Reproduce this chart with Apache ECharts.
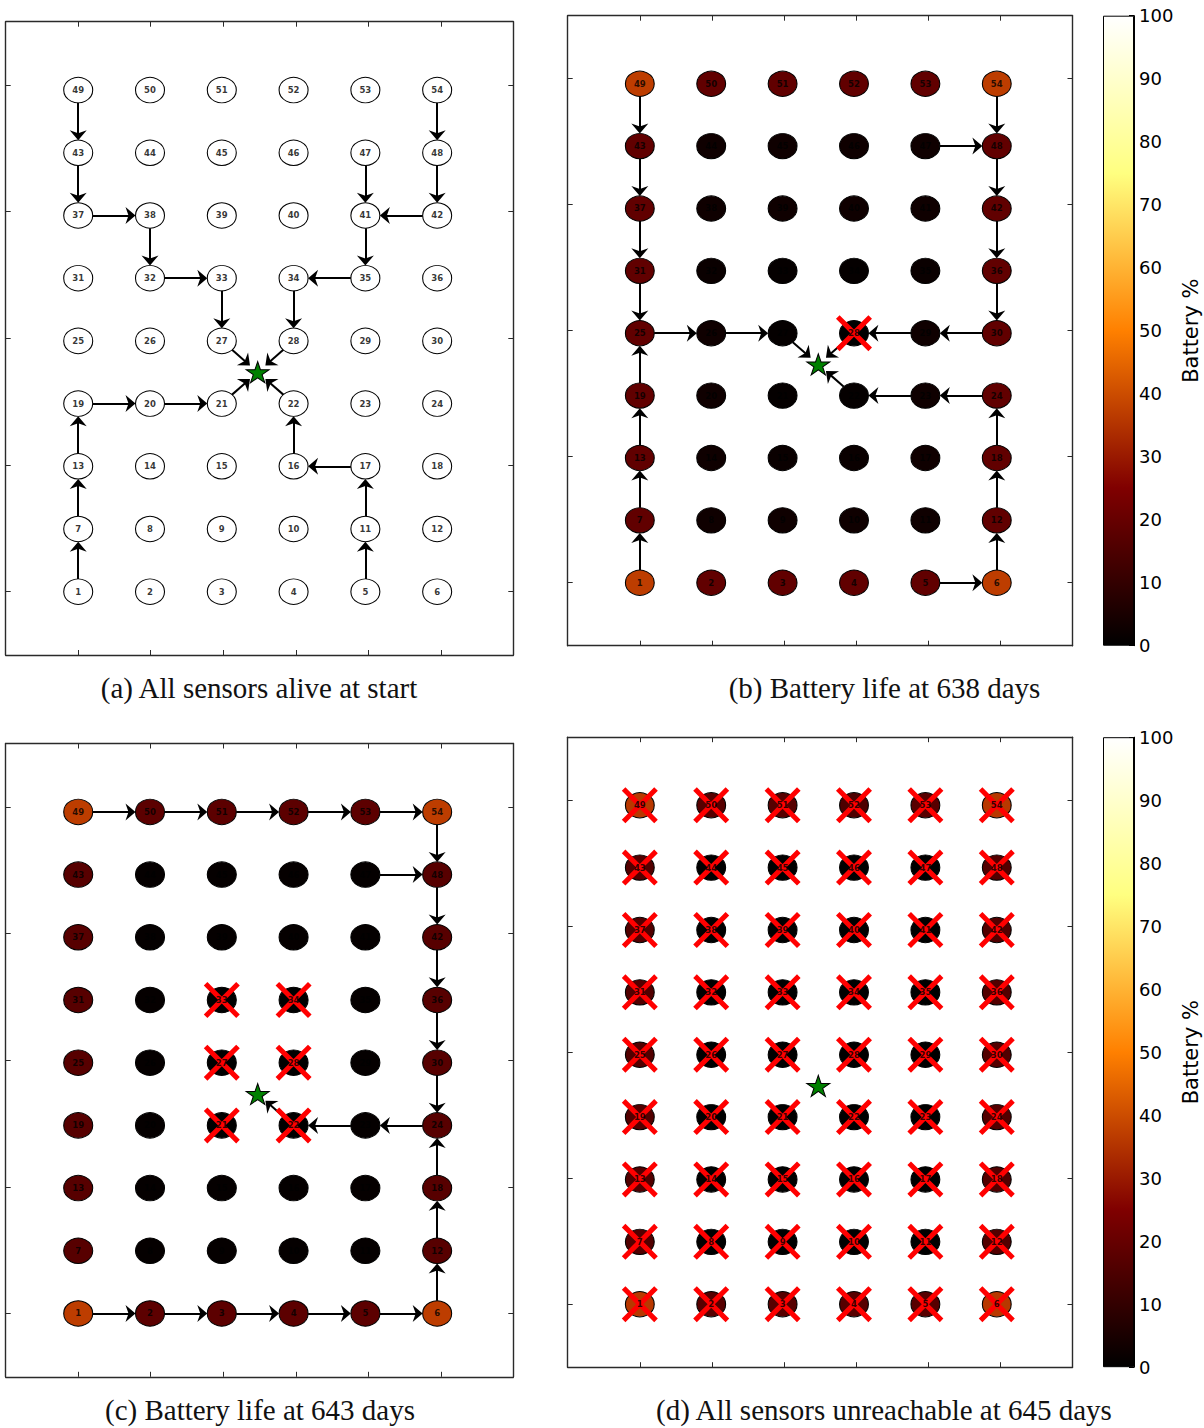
<!DOCTYPE html>
<html><head><meta charset="utf-8">
<script src="https://cdn.jsdelivr.net/npm/echarts@6/dist/echarts.min.js"></script>
<style>html,body{margin:0;padding:0;background:#fff}#c{width:1204px;height:1428px}</style>
</head><body><div id="c"></div>
<script>
// ---------------- data ----------------
const COLS = [0, 99, 198, 297, 396, 495];                        // sensor x positions
const ROWS = [0, 99, 198, 297, 396, 495, 594, 693, 792];         // sensor y positions
const SINK = [247.5, 346.5];                                      // base station (star)
const X_TICKS = [0, 100, 200, 300, 400, 500];
const Y_TICKS = [0, 200, 400, 600, 800];
const CB_TICKS = [0, 10, 20, 30, 40, 50, 60, 70, 80, 90, 100];
const CB_LABEL = 'Battery %';

// battery %, node 1..54 (row by row from the bottom)
const BATTERY_A = [
  100,100,100,100,100,100, 100,100,100,100,100,100, 100,100,100,100,100,100,
  100,100,100,100,100,100, 100,100,100,100,100,100, 100,100,100,100,100,100,
  100,100,100,100,100,100, 100,100,100,100,100,100, 100,100,100,100,100,100];
const BATTERY_B = [
  37,19,19,19,19,37,
  19, 3, 3, 3, 3,19,
  19, 3, 2, 2, 3,19,
  19, 3, 1, 1, 3,19,
  19, 3, 1, 0, 3,19,
  19, 2, 1, 1, 2,19,
  19, 3, 3, 3, 3,19,
  19, 3, 3, 3, 3,19,
  37,19,19,19,19,37];
const BATTERY_C = [
  37,18,18,18,18,37,
  17, 1, 1, 1, 1,17,
  17, 1, 1, 1, 1,17,
  17, 1, 0, 0, 1,17,
  17, 1, 0, 0, 1,17,
  17, 1, 0, 0, 1,17,
  17, 1, 1, 1, 1,17,
  17, 1, 1, 1, 1,17,
  37,18,18,18,18,37];
const BATTERY_D = [
  36,17,17,17,17,36,
  16, 0, 0, 0, 0,16,
  16, 0, 0, 0, 0,16,
  16, 0, 0, 0, 0,16,
  16, 0, 0, 0, 0,16,
  16, 0, 0, 0, 0,16,
  16, 0, 0, 0, 0,16,
  16, 0, 0, 0, 0,16,
  36,17,17,15,17,36];

// routes: [from, to]; 0 = sink
const ROUTES_A = [[49,43],[43,37],[37,38],[38,32],[32,33],[33,27],[27,0],
  [54,48],[48,42],[47,41],[42,41],[41,35],[35,34],[34,28],[28,0],
  [1,7],[7,13],[13,19],[19,20],[20,21],[21,0],
  [5,11],[11,17],[17,16],[16,22],[22,0]];
const ROUTES_B = [[49,43],[43,37],[37,31],[31,25],[1,7],[7,13],[13,19],[19,25],
  [25,26],[26,27],[27,0],
  [54,48],[47,48],[48,42],[42,36],[36,30],[30,29],[29,28],[28,0],
  [5,6],[6,12],[12,18],[18,24],[24,23],[23,22],[22,0]];
const ROUTES_C = [[49,50],[50,51],[51,52],[52,53],[53,54],[54,48],[47,48],[48,42],
  [42,36],[36,30],[30,24],
  [1,2],[2,3],[3,4],[4,5],[5,6],[6,12],[12,18],[18,24],
  [24,23],[23,22],[22,0]];
const ROUTES_D = [];

const DEAD_A = [];
const DEAD_B = [28];
const DEAD_C = [21,22,27,28,33,34];
const DEAD_D = [1,2,3,4,5,6,7,8,9,10,11,12,13,14,15,16,17,18,19,20,21,22,23,24,25,26,27,
  28,29,30,31,32,33,34,35,36,37,38,39,40,41,42,43,44,45,46,47,48,49,50,51,52,53,54];

const CAPTIONS = ['(a) All sensors alive at start', '(b) Battery life at 638 days',
  '(c) Battery life at 643 days', '(d) All sensors unreachable at 645 days'];

// ---------------- layout / style ----------------
const AFMHOT = ['#000000', '#800000', '#ff8000', '#ffff80', '#ffffff'];
const X_RANGE = [-100, 600], Y_RANGE = [-100, 900];
const NODE_R = 20, SINK_R = 15, HEAD_L = 10, HEAD_W = 17;
const SPINE = '#2a2a2a';
const PANELS = [
  {left: 5.7, top: 21.7, width: 507.6, height: 633.3, cap: [259, 688], bat: BATTERY_A, routes: ROUTES_A, dead: DEAD_A},
  {left: 567.7, top: 15.7, width: 504.8, height: 630, cap: [884.5, 688], bat: BATTERY_B, routes: ROUTES_B, dead: DEAD_B, cb: true},
  {left: 5.7, top: 743.5, width: 507.6, height: 633.3, cap: [260, 1410], bat: BATTERY_C, routes: ROUTES_C, dead: DEAD_C},
  {left: 567.7, top: 737.2, width: 504.8, height: 630, cap: [884, 1410], bat: BATTERY_D, routes: ROUTES_D, dead: DEAD_D, cb: true}
];
const ARROW_PATH = 'path://M0,0L9,10L0,7L-9,10Z';
const X_PATH = 'path://M0,10L10,0L50,40L90,0L100,10L60,50L100,90L90,100L50,60L10,100L0,90L40,50Z';
const STAR_PATH = 'path://M50,0L61.23,34.55L97.55,34.55L68.16,55.9L79.39,90.45L50,69.1L20.61,90.45L31.84,55.9L2.45,34.55L38.77,34.55Z';

function pos(n) { return n === 0 ? SINK : [COLS[(n - 1) % 6], ROWS[Math.floor((n - 1) / 6)]]; }

const grid = [], xAxis = [], yAxis = [], series = [], graphic = [], nodeSeries = [];

function axisCommon(gi) {
  return {
    gridIndex: gi, type: 'value',
    axisLine: {show: true, onZero: false, lineStyle: {color: SPINE, width: 1.4}},
    axisLabel: {show: false}, splitLine: {show: false}
  };
}

PANELS.forEach((p, i) => {
  const gi = grid.length;
  grid.push({left: p.left, top: p.top, width: p.width, height: p.height});
  const xi = xAxis.length, yi = yAxis.length;
  ['bottom', 'top'].forEach(ps => xAxis.push(Object.assign(axisCommon(gi), {
    position: ps, min: X_RANGE[0], max: X_RANGE[1], interval: 100,
    axisTick: {show: true, inside: true, length: 5, customValues: X_TICKS, lineStyle: {color: SPINE, width: 1}}
  })));
  ['left', 'right'].forEach(ps => yAxis.push(Object.assign(axisCommon(gi), {
    position: ps, min: Y_RANGE[0], max: Y_RANGE[1], interval: 100,
    axisTick: {show: true, inside: true, length: 5, customValues: Y_TICKS, lineStyle: {color: SPINE, width: 1}}
  })));
  const sx = p.width / (X_RANGE[1] - X_RANGE[0]);
  const sy = p.height / (Y_RANGE[1] - Y_RANGE[0]);
  const ids = [];
  for (let n = 1; n <= 54; n++) ids.push(n);

  // arrows
  const segs = p.routes.map(([a, b]) => {
    const S = pos(a), T = pos(b);
    const dx = T[0] - S[0], dy = T[1] - S[1], d = Math.hypot(dx, dy);
    const ux = dx / d, uy = dy / d;
    const rs = a === 0 ? SINK_R : NODE_R, rt = b === 0 ? SINK_R : NODE_R;
    const px = ux * sx, py = uy * sy, pl = Math.hypot(px, py);
    const tip = [T[0] - ux * rt, T[1] - uy * rt];
    const back = HEAD_L / 2 / pl;
    const lineBack = HEAD_L * 0.5 / pl;
    return {
      start: [S[0] + ux * rs, S[1] + uy * rs],
      end: [tip[0] - ux * lineBack, tip[1] - uy * lineBack],
      center: [tip[0] - ux * back, tip[1] - uy * back],
      rot: Math.atan2(py, px) * 180 / Math.PI - 90
    };
  });

  nodeSeries.push(series.length);
  series.push({
    type: 'scatter', xAxisIndex: xi, yAxisIndex: yi, silent: true, z: 2,
    symbol: 'circle', symbolSize: [2 * NODE_R * sx, 2 * NODE_R * sy],
    itemStyle: {borderColor: '#000', borderWidth: 1, opacity: 1},
    data: ids.map(n => [pos(n)[0], pos(n)[1], p.bat[n - 1]])
  });
  if (segs.length) {
    series.push({
      type: 'lines', coordinateSystem: 'cartesian2d', xAxisIndex: xi, yAxisIndex: yi,
      silent: true, z: 3, symbol: 'none',
      lineStyle: {color: '#000', width: 2, opacity: 1},
      data: segs.map(s => ({coords: [s.start, s.end]}))
    });
    series.push({
      type: 'scatter', xAxisIndex: xi, yAxisIndex: yi, silent: true, z: 3,
      symbol: ARROW_PATH, symbolSize: [HEAD_W, HEAD_L],
      itemStyle: {color: '#000', opacity: 1},
      data: segs.map(s => ({value: s.center, symbolRotate: s.rot}))
    });
  }
  series.push({
    type: 'scatter', xAxisIndex: xi, yAxisIndex: yi, silent: true, z: 4,
    symbol: STAR_PATH, symbolSize: [23, 21],
    itemStyle: {color: '#008000', borderColor: '#000', borderWidth: 1, opacity: 1},
    data: [SINK]
  });
  if (p.dead.length) {
    series.push({
      type: 'scatter', xAxisIndex: xi, yAxisIndex: yi, silent: true, z: 5,
      symbol: X_PATH, symbolSize: [36, 36],
      itemStyle: {color: '#ff0000', opacity: 1},
      data: p.dead.map(n => pos(n))
    });
  }
  series.push({
    type: 'scatter', xAxisIndex: xi, yAxisIndex: yi, silent: true, z: 6,
    symbol: 'circle', symbolSize: 1,
    itemStyle: {color: 'rgba(0,0,0,0)'},
    label: {show: true, position: 'inside', fontFamily: 'DejaVu Sans', fontWeight: 'bold', fontSize: 8.5, color: '#000',
      formatter: prm => String(prm.data.id)},
    data: ids.map(n => ({value: pos(n), id: n}))
  });

  if (p.cb) {
    const cg = grid.length;
    grid.push({left: 1103, top: p.top, width: 31, height: p.height});
    const cxi = xAxis.length, cyi = yAxis.length;
    xAxis.push({type: 'category', gridIndex: cg, data: ['cb'], show: false, boundaryGap: true});
    yAxis.push({
      type: 'value', gridIndex: cg, position: 'right', min: 0, max: 100, interval: 10,
      axisLine: {show: true, lineStyle: {color: '#000', width: 1}},
      axisTick: {show: true, inside: true, length: 5, customValues: CB_TICKS, lineStyle: {color: '#000'}},
      axisLabel: {show: true, customValues: CB_TICKS, margin: 5, color: '#000', fontFamily: 'DejaVu Sans', fontSize: 18},
      splitLine: {show: false},
      name: CB_LABEL, nameLocation: 'middle', nameRotate: 90, nameGap: 46,
      nameTextStyle: {color: '#000', fontFamily: 'DejaVu Sans', fontSize: 21}
    });
    series.push({
      type: 'bar', xAxisIndex: cxi, yAxisIndex: cyi, silent: true, barWidth: '100%', z: 2,
      itemStyle: {
        borderColor: '#000', borderWidth: 1,
        color: {type: 'linear', x: 0, y: 1, x2: 0, y2: 0,
          colorStops: AFMHOT.map((c, k) => ({offset: k / (AFMHOT.length - 1), color: c}))}
      },
      data: [CB_TICKS[CB_TICKS.length - 1]]
    });
  }

  graphic.push({
    type: 'text', x: p.cap[0], y: p.cap[1], silent: true,
    style: {text: CAPTIONS[i], fill: '#111', font: '29px "Liberation Serif"', textAlign: 'center', textVerticalAlign: 'middle'}
  });
});

const chart = echarts.init(document.getElementById('c'), null, {renderer: 'svg'});
chart.setOption({
  animation: false,
  backgroundColor: '#ffffff',
  grid, xAxis, yAxis, series, graphic,
  visualMap: [{type: 'continuous', show: false, min: 0, max: 100, dimension: 2,
    seriesIndex: nodeSeries, inRange: {color: AFMHOT}}]
});
</script>
</body></html>
